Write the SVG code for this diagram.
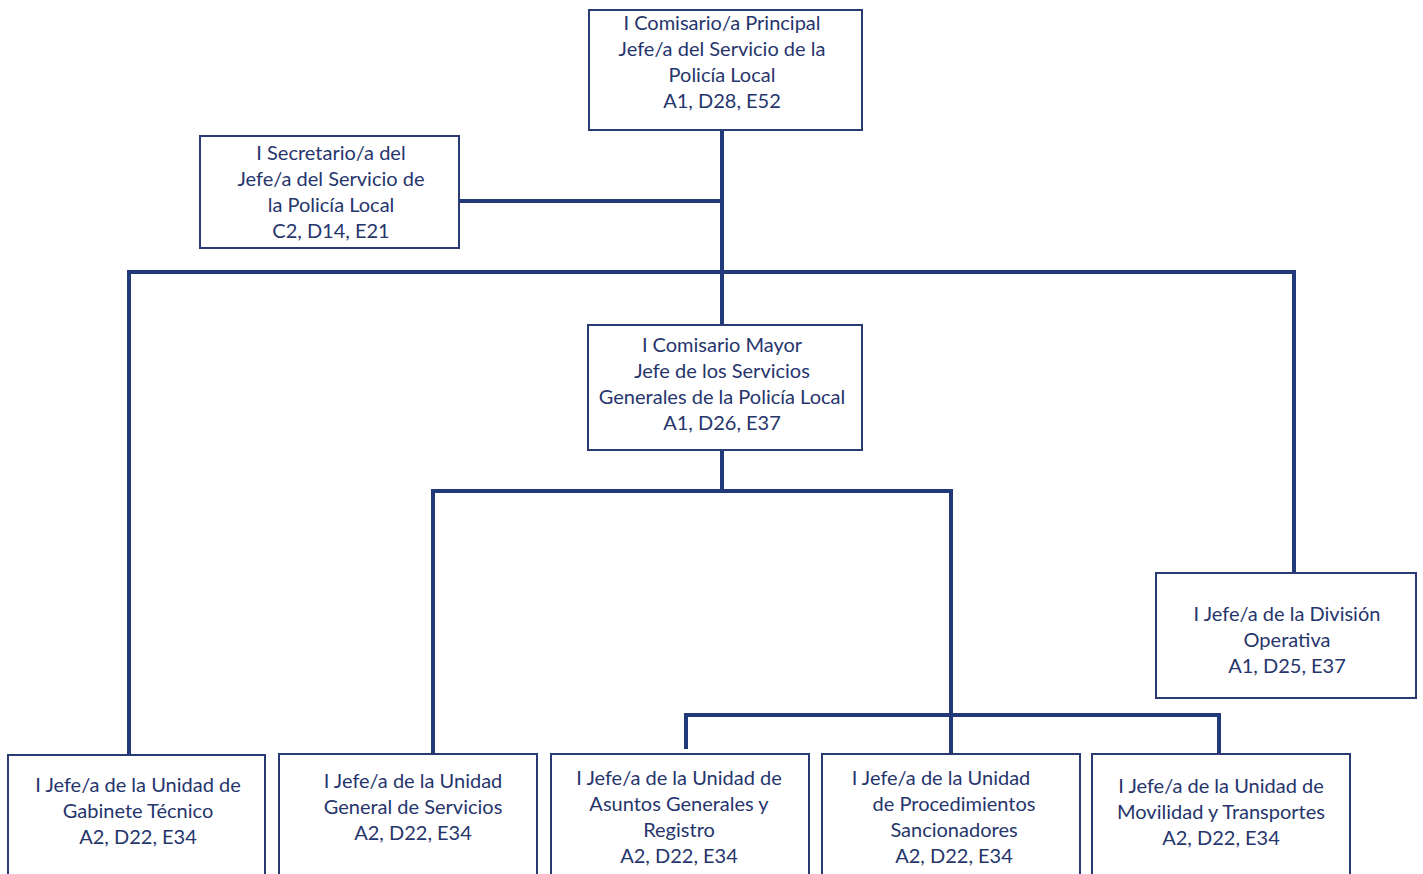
<svg xmlns="http://www.w3.org/2000/svg" width="1423" height="874" viewBox="0 0 1423 874">
<style>
.box{fill:#fff;stroke:#2a3a72;stroke-width:2}
.t{font-family:Lato,"Open Sans","Liberation Sans",sans-serif;font-size:20px;fill:#26356c;text-anchor:middle}
.c{fill:none;stroke:#22397a;stroke-width:4}
</style>
<rect width="1423" height="874" fill="#fff"/>
<g id="connectors">
<path class="c" d="M722 130V325M459 201H722M129 754V272H1294V573M722 450V491M433 754V491H951V754M686 749V715H1219V754"/>
</g>
<g id="n1"><rect class="box" x="589" y="10" width="273" height="120"/>
<text class="t"><tspan x="722" y="30">I Comisario/a Principal</tspan><tspan x="722" y="56">Jefe/a del Servicio de la</tspan><tspan x="722" y="82">Policía Local</tspan><tspan x="722" y="108">A1, D28, E52</tspan></text></g>
<g id="n2"><rect class="box" x="200" y="136" width="259" height="112"/>
<text class="t"><tspan x="331" y="160">I Secretario/a del</tspan><tspan x="331" y="186">Jefe/a del Servicio de</tspan><tspan x="331" y="212">la Policía Local</tspan><tspan x="331" y="238">C2, D14, E21</tspan></text></g>
<g id="n3"><rect class="box" x="588" y="325" width="274" height="125"/>
<text class="t"><tspan x="722" y="352">I Comisario Mayor</tspan><tspan x="722" y="378">Jefe de los Servicios</tspan><tspan x="722" y="404">Generales de la Policía Local</tspan><tspan x="722" y="430">A1, D26, E37</tspan></text></g>
<g id="n4"><rect class="box" x="1156" y="573" width="260" height="125"/>
<text class="t"><tspan x="1287" y="621">I Jefe/a de la División</tspan><tspan x="1287" y="647">Operativa</tspan><tspan x="1287" y="673">A1, D25, E37</tspan></text></g>
<g id="n5"><rect class="box" x="8" y="755" width="257" height="130"/>
<text class="t"><tspan x="138" y="792">I Jefe/a de la Unidad de</tspan><tspan x="138" y="818">Gabinete Técnico</tspan><tspan x="138" y="844">A2, D22, E34</tspan></text></g>
<g id="n6"><rect class="box" x="279" y="754" width="258" height="130"/>
<text class="t"><tspan x="413" y="788">I Jefe/a de la Unidad</tspan><tspan x="413" y="814">General de Servicios</tspan><tspan x="413" y="840">A2, D22, E34</tspan></text></g>
<g id="n7"><rect class="box" x="551" y="754" width="258" height="130"/>
<text class="t"><tspan x="679" y="785">I Jefe/a de la Unidad de</tspan><tspan x="679" y="811">Asuntos Generales y</tspan><tspan x="679" y="837">Registro</tspan><tspan x="679" y="863">A2, D22, E34</tspan></text></g>
<g id="n8"><rect class="box" x="822" y="754" width="258" height="130"/>
<text class="t"><tspan x="941" y="785">I Jefe/a de la Unidad</tspan><tspan x="954" y="811">de Procedimientos</tspan><tspan x="954" y="837">Sancionadores</tspan><tspan x="954" y="863">A2, D22, E34</tspan></text></g>
<g id="n9"><rect class="box" x="1092" y="754" width="258" height="130"/>
<text class="t"><tspan x="1221" y="793">I Jefe/a de la Unidad de</tspan><tspan x="1221" y="819">Movilidad y Transportes</tspan><tspan x="1221" y="845">A2, D22, E34</tspan></text></g>
</svg>
